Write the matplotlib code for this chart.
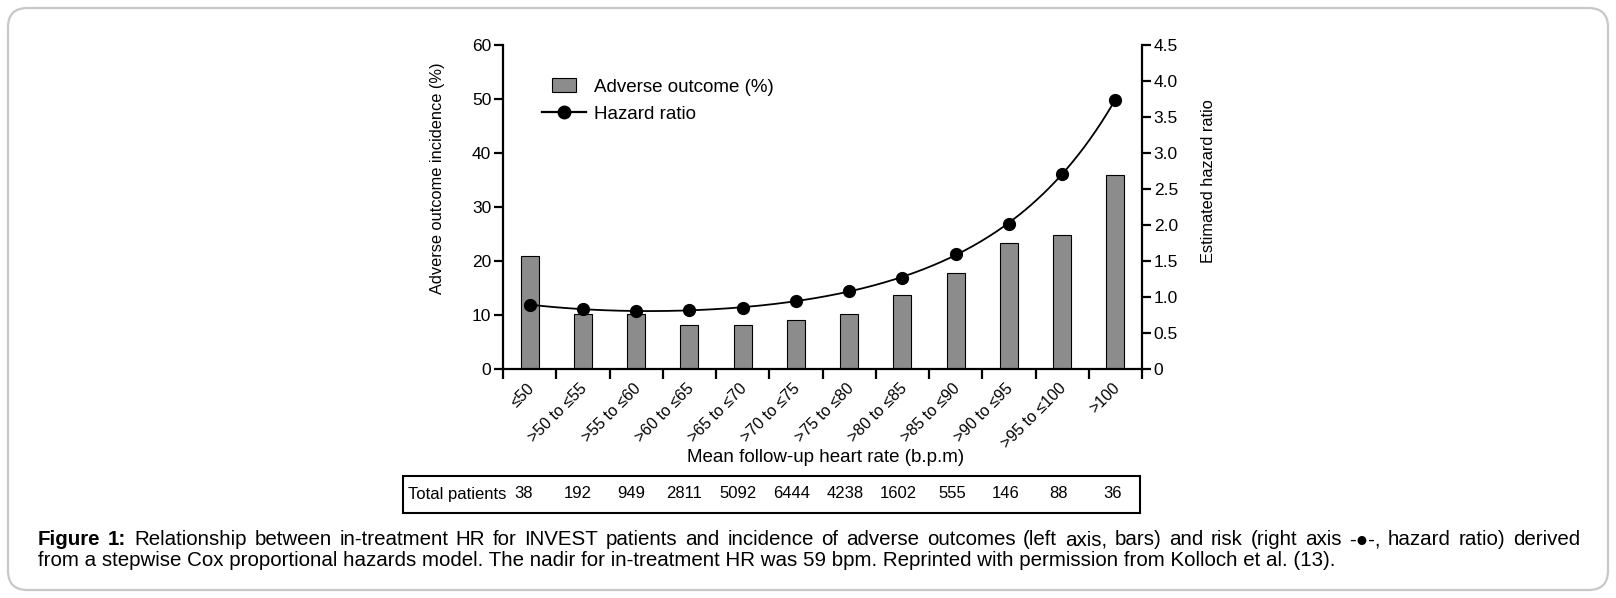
import matplotlib
matplotlib.use("Agg")
import matplotlib.pyplot as plt
import matplotlib.transforms as mtransforms
import numpy as np
from matplotlib.patches import Rectangle, FancyBboxPatch
from matplotlib.lines import Line2D
from matplotlib.legend_handler import HandlerPatch

plt.rcParams['font.family'] = ['Liberation Sans', 'DejaVu Sans']

# ---- data ----
categories = ["\u226450", ">50 to \u226455", ">55 to \u226460", ">60 to \u226465",
              ">65 to \u226470", ">70 to \u226475", ">75 to \u226480", ">80 to \u226485",
              ">85 to \u226490", ">90 to \u226495", ">95 to \u2264100", ">100"]
adverse_pct = [21.0, 10.1, 10.1, 8.2, 8.2, 9.0, 10.1, 13.7, 17.8, 23.3, 24.8, 36.0]
hazard_ratio = [0.89, 0.835, 0.81, 0.815, 0.85, 0.94, 1.085, 1.27, 1.60, 2.02, 2.71, 3.74]
total_patients = [38, 192, 949, 2811, 5092, 6444, 4238, 1602, 555, 146, 88, 36]
left_ticks = [0, 10, 20, 30, 40, 50, 60]
right_ticks = [0, 0.5, 1.0, 1.5, 2.0, 2.5, 3.0, 3.5, 4.0, 4.5]
right_tick_labels = ["0", "0.5", "1.0", "1.5", "2.0", "2.5", "3.0", "3.5", "4.0", "4.5"]

W, H = 1616, 598
fig = plt.figure(figsize=(W / 100, H / 100), dpi=100)

def fx(px):
    return px / W

def fy(py):
    return 1 - py / H

ax_l, ax_r, ax_t, ax_b = 503, 1142, 45, 369
ax = fig.add_axes([fx(ax_l), fy(ax_b), fx(ax_r - ax_l), (ax_b - ax_t) / H])
ax2 = ax.twinx()

x = np.arange(len(categories))
ax.bar(x, adverse_pct, width=0.34, color="#8c8c8c", edgecolor="black", linewidth=0.8,
       zorder=2)
ax.set_xlim(-0.5, len(categories) - 0.5)
ax.set_ylim(0, 60)
ax.set_yticks(left_ticks)

# smooth line through the hazard ratios (fit in log space) + markers
coef = np.polyfit(x, np.log(hazard_ratio), 3)
xs = np.linspace(x[0], x[-1], 300)
ax2.plot(xs, np.exp(np.polyval(coef, xs)), color="black", lw=1.3, zorder=3)
ax2.plot(x, hazard_ratio, "o", color="black", ms=8.5, zorder=4)
ax2.set_ylim(0, 4.5)
ax2.set_yticks(right_ticks)
ax2.set_yticklabels(right_tick_labels)

for a in (ax, ax2):
    a.spines['top'].set_visible(False)
    for s in a.spines.values():
        s.set_linewidth(1.6)
ax2.spines['left'].set_visible(False)
ax2.spines['bottom'].set_visible(False)
ax.spines['right'].set_visible(False)

ax.tick_params(axis='y', length=6.5, width=1.6, labelsize=12.5, pad=2)
ax2.tick_params(axis='y', length=6.5, width=1.6, labelsize=12.5, pad=2)

# x ticks: marks at category boundaries, labels at centres
ax.set_xticks(np.arange(-0.5, len(categories) + 0.5, 1.0), minor=True)
ax.set_xticks(x)
ax.tick_params(axis='x', which='minor', length=7, width=1.6)
ax.tick_params(axis='x', which='major', length=0, pad=12)
offset = mtransforms.ScaledTranslation(2 / 100, 0, fig.dpi_scale_trans)
ax.set_xticklabels(categories, rotation=45, ha='right', va='center',
                   rotation_mode='anchor', fontsize=11.5)
for lab in ax.get_xticklabels():
    lab.set_transform(lab.get_transform() + offset)

ax.set_ylabel("Adverse outcome incidence (%)", fontsize=11.8)
ax.yaxis.set_label_coords(-0.09, 0.59)
ax2.set_ylabel("Estimated hazard ratio", fontsize=11.8)
ax2.yaxis.set_label_coords(1.093, 0.58)

# x label
fig.text(fx(826), fy(458), "Mean follow-up heart rate (b.p.m)", ha='center', va='center',
         fontsize=13.5)

# legend
def narrow_rect(legend, orig_handle, xdescent, ydescent, width, height, fontsize):
    w = width * 0.56
    return Rectangle((-xdescent + (width - w) / 2, -ydescent), w, height)

bar_handle = Rectangle((0, 0), 1, 1, facecolor="#8c8c8c", edgecolor="black", linewidth=0.8)
line_handle = Line2D([], [], color="black", lw=1.6, marker="o", ms=9)
fig.legend([bar_handle, line_handle], ["Adverse outcome (%)", "Hazard ratio"],
           loc="upper left", bbox_to_anchor=(fx(533), fy(69)), frameon=False,
           fontsize=13.5, borderpad=0, handlelength=2.3, handletextpad=0.45,
           labelspacing=0.55, handler_map={Rectangle: HandlerPatch(patch_func=narrow_rect)})

# table of patient counts
fig.patches.append(Rectangle((fx(403), fy(513)), fx(1140 - 403), (513 - 476) / H,
                             transform=fig.transFigure, fill=False, edgecolor="black",
                             linewidth=1.5))
fig.text(fx(408), fy(494), "Total patients", ha='left', va='center', fontsize=12)
for i, n in enumerate(total_patients):
    fig.text(fx(524 + 53.5 * i), fy(494), str(n), ha='center', va='center', fontsize=12)

# outer rounded border
fig.patches.append(FancyBboxPatch((fx(8), fy(590)), fx(1600), (590 - 8) / H,
                                  boxstyle="round,pad=0,rounding_size=0.012",
                                  transform=fig.transFigure, fill=False,
                                  edgecolor="#c8c8c8", linewidth=1.6,
                                  mutation_aspect=W / H))

# caption: first line justified, second line left aligned
renderer = fig.canvas.get_renderer()
cap_fs = 14.8
cap_left, cap_right = 38, 1580
line1_words = ("Figure 1: Relationship between in-treatment HR for INVEST patients and incidence of "
               "adverse outcomes (left axis, bars) and risk (right axis -\u25cf-, hazard ratio) "
               "derived").split(" ")
line2 = ("from a stepwise Cox proportional hazards model. The nadir for in-treatment HR was 59 bpm. "
         "Reprinted with permission from Kolloch et al. (13).")
word_texts = []
for i, w in enumerate(line1_words):
    t = fig.text(0, fy(545), w, fontsize=cap_fs, ha='left', va='baseline',
                 fontweight='bold' if i < 2 else 'normal')
    word_texts.append(t)
widths = [t.get_window_extent(renderer).width for t in word_texts]
gap = ((cap_right - cap_left) - sum(widths)) / (len(widths) - 1)
pos = cap_left
for t, wd in zip(word_texts, widths):
    t.set_x(pos / W)
    pos += wd + gap
fig.text(fx(cap_left), fy(566), line2, fontsize=cap_fs, ha='left', va='baseline')

fig.savefig("out.png", dpi=100)
